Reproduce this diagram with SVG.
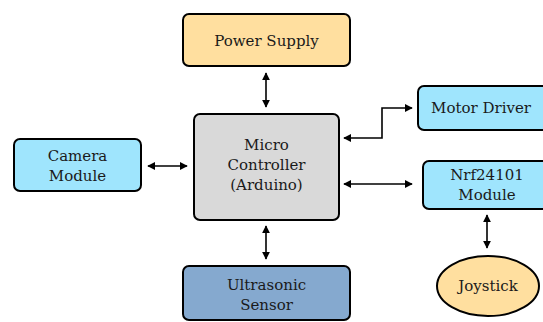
<svg xmlns="http://www.w3.org/2000/svg" width="543" height="322" viewBox="0 0 543 322">
<defs>
<marker id="ah" viewBox="0 0 10 10" refX="9" refY="5" markerWidth="8" markerHeight="8" markerUnits="userSpaceOnUse" orient="auto-start-reverse">
<path d="M0,0 L10,5 L0,10 z" fill="#000"/>
</marker>
<style>
.box{stroke:#000;stroke-width:2}
.t{font-family:"DejaVu Serif","Liberation Serif",serif;font-size:15px;fill:#1a1a1a;text-anchor:middle}
.c{fill:none;stroke:#000;stroke-width:1.6;marker-start:url(#ah);marker-end:url(#ah)}
</style>
</defs>
<rect width="543" height="322" fill="#fff"/>
<g id="power"><rect class="box" x="183" y="14" width="167" height="52" rx="6" fill="#ffdf9f"/><text class="t" x="266.5" y="46">Power Supply</text></g>
<g id="mcu"><rect class="box" x="194" y="114" width="145" height="106" rx="6" fill="#d9d9d9"/><text class="t" x="266.5" y="150">Micro</text><text class="t" x="266.5" y="170">Controller</text><text class="t" x="266.5" y="190">(Arduino)</text></g>
<g id="camera"><rect class="box" x="14" y="139" width="127" height="52" rx="6" fill="#9fe5fd"/><text class="t" x="77.5" y="161">Camera</text><text class="t" x="77.5" y="181">Module</text></g>
<g id="motor"><rect class="box" x="418" y="86" width="135" height="44" rx="6" fill="#9fe5fd"/><text class="t" x="481" y="113">Motor Driver</text></g>
<g id="nrf"><rect class="box" x="423" y="161" width="130" height="48" rx="6" fill="#9fe5fd"/><text class="t" x="487" y="180">Nrf24101</text><text class="t" x="487" y="200">Module</text></g>
<g id="joystick"><ellipse class="box" cx="488" cy="286" rx="51" ry="30" fill="#ffdf9f"/><text class="t" x="488" y="291">Joystick</text></g>
<g id="ultra"><rect class="box" x="183" y="266" width="167" height="54" rx="6" fill="#85a9cf"/><text class="t" x="266.5" y="290">Ultrasonic</text><text class="t" x="266.5" y="310">Sensor</text></g>
<g id="connectors">
<line class="c" x1="266" y1="73" x2="266" y2="107"/>
<line class="c" x1="148" y1="166" x2="187" y2="166"/>
<line class="c" x1="266" y1="226" x2="266" y2="259"/>
<line class="c" x1="344" y1="184" x2="412" y2="184"/>
<polyline class="c" points="344,138 382,138 382,108 412,108"/>
<line class="c" x1="487" y1="215" x2="487" y2="248"/>
</g>
</svg>
